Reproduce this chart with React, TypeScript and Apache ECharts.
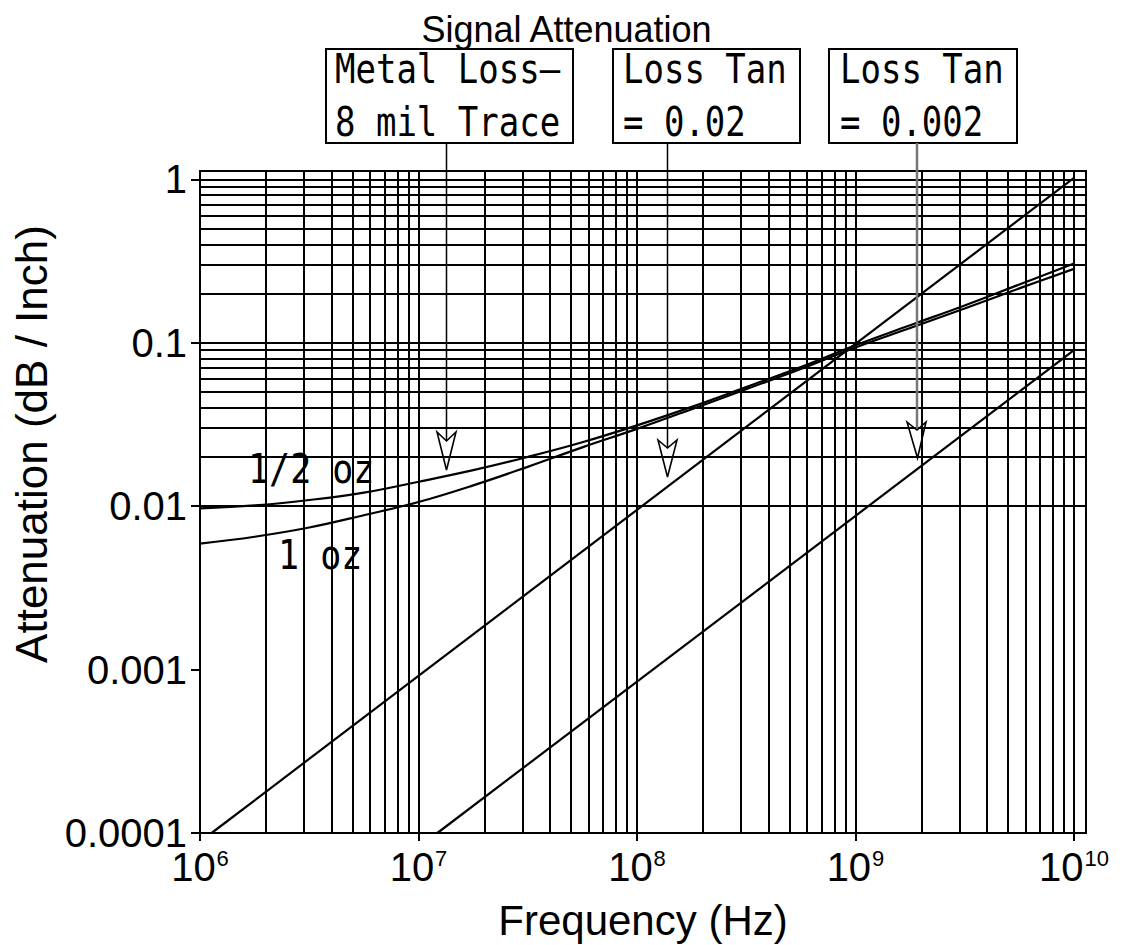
import React, { useEffect, useRef } from "react";
import * as echarts from "echarts";

// ---- data ----
const xTicks = [1e6, 1e7, 1e8, 1e9, 1e10];
const xTickExps = ["6", "7", "8", "9", "10"];
const yTicks = [1e-4, 1e-3, 1e-2, 1e-1, 1];
const yTickLabels = ["0.0001", "0.001", "0.01", "0.1", "1"];

const metalFreq = [1e6, 1.78e6, 3.16e6, 5.62e6, 1e7, 1.78e7, 3.16e7, 5.62e7, 1e8, 1.78e8, 3.16e8, 5.62e8, 1e9, 1.78e9, 3.16e9, 5.62e9, 1e10];
const halfOz = [0.0097, 0.0101, 0.0109, 0.0121, 0.0141, 0.0166, 0.0200, 0.0246, 0.0312, 0.0405, 0.0535, 0.0710, 0.0965, 0.128, 0.169, 0.227, 0.305];
const oneOz = [0.0059, 0.0065, 0.0074, 0.0088, 0.0106, 0.0134, 0.0174, 0.0229, 0.0297, 0.0392, 0.0520, 0.0690, 0.0935, 0.123, 0.162, 0.215, 0.283];

const lossTan002Freq = [1.13e6, 1e10];
const lossTan002 = [1e-4, 1.02];
const lossTan0002Freq = [1.22e7, 1e10];
const lossTan0002 = [1e-4, 0.09];

const X_MIN = 1e6;
const X_MAX = 1.135e10;
const Y_MIN = 1e-4;
const Y_MAX = 1.124;

const MONO = '"DejaVu Sans Mono"';
const SANS = '"Liberation Sans", Arial, sans-serif';

function gridValues(minExp: number, maxExp: number) {
  const out: number[] = [];
  for (let e = minExp; e < maxExp; e++) {
    for (let m = 1; m <= 9; m++) {
      if (e === minExp && m === 1) continue;
      out.push(m * Math.pow(10, e));
    }
  }
  out.push(Math.pow(10, maxExp));
  return out;
}

export default function App() {
  const ref = useRef<HTMLDivElement>(null);

  useEffect(() => {
    if (!ref.current) return;
    const chart = echarts.init(ref.current, null, { renderer: "svg" });

    const vLines = gridValues(6, 10).map((v) => ({ xAxis: v }));
    const hLines = gridValues(-4, 0).map((v) => ({ yAxis: v }));

    const zip = (xs: number[], ys: number[]) => xs.map((x, i) => [x, ys[i]]);

    const curveStyle = { color: "#000", width: 2.2 };

    const txt = (text: string, x: number, y: number, size = 34, sy = 1.2) => ({
      type: "text",
      x,
      y,
      scaleY: sy,
      z: 100,
      style: {
        text,
        fontFamily: MONO,
        fontSize: size,
        fill: "#000",
        align: "left",
        verticalAlign: "middle",
      },
    });

    const option: any = {
      animation: false,
      backgroundColor: "#fff",
      title: {
        text: "Signal Attenuation",
        left: "center",
        top: 6,
        textStyle: { fontFamily: SANS, fontSize: 36, fontWeight: "normal", color: "#000" },
      },
      grid: {
        left: 200,
        top: 171,
        right: 47,
        bottom: 112,
        show: true,
        borderColor: "#000",
        borderWidth: 2,
        containLabel: false,
        outerBoundsMode: "none",
      },
      xAxis: {
        type: "log",
        logBase: 10,
        min: X_MIN,
        max: X_MAX,
        name: "Frequency (Hz)",
        nameLocation: "middle",
        nameGap: 66,
        nameTextStyle: { fontFamily: SANS, fontSize: 42, color: "#000" },
        axisLine: { show: false },
        axisTick: { show: true, length: 8, lineStyle: { color: "#000", width: 2 }, customValues: xTicks },
        axisLabel: {
          customValues: xTicks,
          margin: 14,
          color: "#000",
          fontFamily: SANS,
          fontSize: 40,
          formatter: (v: number) => {
            const i = xTicks.findIndex((t) => Math.abs(Math.log10(t) - Math.log10(v)) < 1e-6);
            return i < 0 ? "" : "{b|10}{s|" + xTickExps[i] + "}";
          },
          rich: {
            b: { fontFamily: SANS, fontSize: 40, color: "#000" },
            s: { fontFamily: SANS, fontSize: 22, color: "#000", verticalAlign: "top", padding: [0, 0, 0, 1] },
          },
        },
        splitLine: { show: false },
      },
      yAxis: {
        type: "log",
        logBase: 10,
        min: Y_MIN,
        max: Y_MAX,
        name: "Attenuation (dB / Inch)",
        nameLocation: "middle",
        nameGap: 143,
        nameRotate: 90,
        nameTextStyle: { fontFamily: SANS, fontSize: 44, color: "#000", padding: [0, 0, 0, 116] },
        axisLine: { show: false },
        axisTick: { show: true, length: 9, lineStyle: { color: "#000", width: 2 }, customValues: yTicks },
        axisLabel: {
          customValues: yTicks,
          margin: 13,
          color: "#000",
          fontFamily: SANS,
          fontSize: 40,
          formatter: (v: number) => {
            const i = yTicks.findIndex((t) => Math.abs(Math.log10(t) - Math.log10(v)) < 1e-6);
            return i < 0 ? "" : yTickLabels[i];
          },
        },
        splitLine: { show: false },
      },
      series: [
        {
          type: "line",
          name: "grid",
          data: [[X_MIN, Y_MIN]],
          symbol: "none",
          lineStyle: { opacity: 0 },
          silent: true,
          markLine: {
            silent: true,
            symbol: ["none", "none"],
            label: { show: false },
            emphasis: { disabled: true },
            lineStyle: { color: "#000", width: 2, type: "solid" },
            data: [...vLines, ...hLines],
          },
        },
        {
          type: "line",
          name: "1/2 oz",
          data: zip(metalFreq, halfOz),
          symbol: "none",
          smooth: 0.4,
          lineStyle: curveStyle,
          z: 5,
        },
        {
          type: "line",
          name: "1 oz",
          data: zip(metalFreq, oneOz),
          symbol: "none",
          smooth: 0.4,
          lineStyle: curveStyle,
          z: 5,
        },
        {
          type: "line",
          name: "Loss Tan = 0.02",
          data: zip(lossTan002Freq, lossTan002),
          symbol: "none",
          lineStyle: curveStyle,
          z: 5,
        },
        {
          type: "line",
          name: "Loss Tan = 0.002",
          data: zip(lossTan0002Freq, lossTan0002),
          symbol: "none",
          lineStyle: curveStyle,
          z: 5,
        },
      ],
      graphic: [
        { type: "rect", z: 100, shape: { x: 326, y: 49, width: 247, height: 94 }, style: { fill: "#fff", stroke: "#000", lineWidth: 2 } },
        { type: "rect", z: 100, shape: { x: 613, y: 49, width: 187, height: 94 }, style: { fill: "#fff", stroke: "#000", lineWidth: 2 } },
        { type: "rect", z: 100, shape: { x: 829, y: 49, width: 188, height: 94 }, style: { fill: "#fff", stroke: "#000", lineWidth: 2 } },
        txt("Metal Loss—", 335, 69),
        txt("8 mil Trace", 335, 122),
        txt("Loss Tan", 623, 69),
        txt("= 0.02", 623, 122),
        txt("Loss Tan", 840, 69),
        txt("= 0.002", 840, 122),
        txt("1/2 oz", 248, 469, 35, 1.15),
        txt("1 oz", 278, 555, 35, 1.15),
        { type: "line", z: 100, shape: { x1: 446.5, y1: 143, x2: 446.5, y2: 441 }, style: { stroke: "#000", lineWidth: 1.5 } },
        { type: "line", z: 100, shape: { x1: 667.5, y1: 143, x2: 667.5, y2: 448 }, style: { stroke: "#000", lineWidth: 1.5 } },
        { type: "line", z: 100, shape: { x1: 917, y1: 143, x2: 917, y2: 430 }, style: { stroke: "#777", lineWidth: 2.5 } },
        { type: "polygon", z: 100, shape: { points: [[437, 432], [446.5, 441], [456, 432], [446.5, 470]] }, style: { fill: "none", stroke: "#000", lineWidth: 1.6 } },
        { type: "polygon", z: 100, shape: { points: [[658, 440], [667.5, 448], [677, 440], [667.5, 477]] }, style: { fill: "none", stroke: "#000", lineWidth: 1.6 } },
        { type: "polygon", z: 100, shape: { points: [[907, 422], [917, 430], [926, 422], [917.5, 458]] }, style: { fill: "none", stroke: "#000", lineWidth: 1.6 } },
      ],
    };

    chart.setOption(option);
    return () => chart.dispose();
  }, []);

  return (
    <div
      ref={ref}
      style={{ position: "absolute", left: 0, top: 0, width: 1133, height: 945, background: "#fff" }}
    />
  );
}
